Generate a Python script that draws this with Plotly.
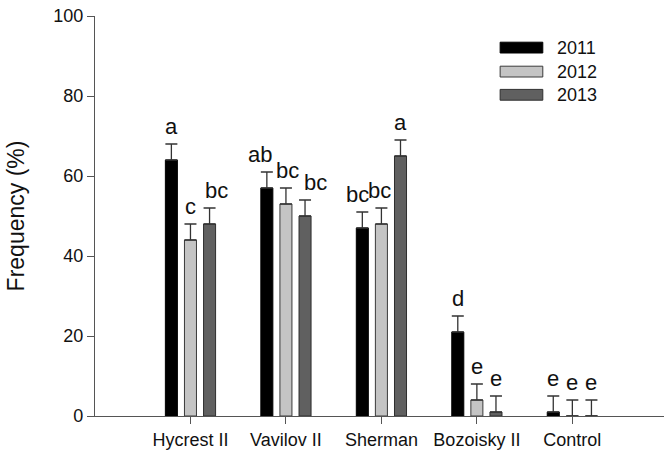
import plotly.graph_objects as go

categories = ["Hycrest II", "Vavilov II", "Sherman", "Bozoisky II", "Control"]
years = ["2011", "2012", "2013"]
values_2011 = [64, 57, 47, 21, 1]
values_2012 = [44, 53, 48, 4, 0]
values_2013 = [48, 50, 65, 1, 0]
errors_2011 = [4, 4, 4, 4, 4]
errors_2012 = [4, 4, 4, 4, 4]
errors_2013 = [4, 4, 4, 4, 4]
letters_2011 = ["a", "ab", "bc", "d", "e"]
letters_2012 = ["c", "bc", "bc", "e", "e"]
letters_2013 = ["bc", "bc", "a", "e", "e"]
y_ticks = [0, 20, 40, 60, 80, 100]

values = [values_2011, values_2012, values_2013]
errors = [errors_2011, errors_2012, errors_2013]
letters = [letters_2011, letters_2012, letters_2013]

# styling
fills = ["#000000", "#c4c4c4", "#606060"]
outlines = ["#000000", "#3a3a3a", "#2e2e2e"]
slot_px = 19  # pixel offset of each year's bar from the category centre
letter_nudge = [  # small horizontal nudges of letter labels (px)
    [0, -7, -5, 0, 0],
    [0, 2, -2, 0, 0],
    [7, 11, 0, 0, 0],
]
FONT = "Liberation Sans, Arial, sans-serif"

fig = go.Figure()
for i, yr in enumerate(years):
    fig.add_trace(go.Bar(
        name=yr,
        x=categories,
        y=values[i],
        marker=dict(color=fills[i], line=dict(color=outlines[i], width=1)),
        error_y=dict(type="data", array=errors[i], arrayminus=[0] * len(errors[i]),
                     symmetric=False, visible=True,
                     color="#333333", thickness=1.3, width=6),
        showlegend=False,
    ))

annotations = []
for i in range(len(years)):
    for j, cat in enumerate(categories):
        annotations.append(dict(
            x=cat, y=values[i][j] + errors[i][j], xref="x", yref="y",
            text=letters[i][j], showarrow=False,
            xanchor="center", yanchor="bottom",
            xshift=(i - 1) * slot_px + letter_nudge[i][j], yshift=3,
            font=dict(family=FONT, size=22, color="#111111"),
        ))

# legend drawn as keys + labels in the upper right
shapes = []
key_y = [0.921, 0.861, 0.803]
for i, yr in enumerate(years):
    shapes.append(dict(type="rect", xref="paper", yref="paper",
                       x0=0.712, x1=0.787, y0=key_y[i] - 0.0135, y1=key_y[i] + 0.0135,
                       fillcolor=fills[i], line=dict(color=outlines[i], width=1)))
    annotations.append(dict(x=0.808, y=key_y[i], xref="paper", yref="paper",
                            text=yr, showarrow=False, xanchor="left", yanchor="middle",
                            font=dict(family=FONT, size=18, color="#111111")))

fig.update_layout(
    width=664, height=457,
    margin=dict(l=95, r=0, t=16, b=41, autoexpand=False),
    paper_bgcolor="white", plot_bgcolor="white",
    barmode="group", bargap=0.4, bargroupgap=0.37,
    font=dict(family=FONT, size=18, color="#222222"),
    annotations=annotations, shapes=shapes,
    showlegend=False,
)
fig.update_xaxes(
    range=[-1, 4.96], showline=True, linecolor="#555555", linewidth=1.3,
    ticks="outside", ticklen=7, tickcolor="#555555", tickwidth=1.3,
    showgrid=False, zeroline=False, automargin=False,
    tickfont=dict(family=FONT, size=18, color="#111111"),
)
fig.update_yaxes(
    range=[0, 100], tickvals=y_ticks, showline=True, linecolor="#555555", linewidth=1.3,
    ticks="outside", ticklen=7, tickcolor="#555555", tickwidth=1.3,
    showgrid=False, zeroline=False, automargin=False,
    tickfont=dict(family=FONT, size=18, color="#111111"),
    title=dict(text="Frequency (%)", font=dict(family=FONT, size=23, color="#111111"),
               standoff=22),
)

fig.write_html("out.html", config={"displayModeBar": False},
               post_script="document.body.style.margin='0';")
